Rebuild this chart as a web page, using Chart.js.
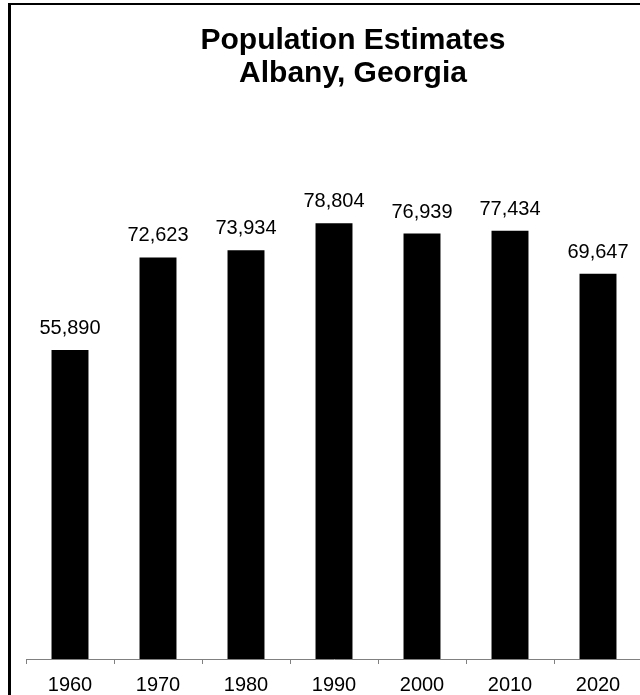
<!DOCTYPE html>
<html>
<head>
<meta charset="utf-8">
<script src="https://cdn.jsdelivr.net/npm/chart.js@4"></script>
<style>
  html, body { margin: 0; padding: 0; background: #fff; overflow: hidden; }
  #frame {
    position: absolute; left: 8px; top: 3px;
    width: 684px; height: 715px;
    border-left: 3px solid #000; border-top: 2px solid #000;
  }
  #wrap { position: relative; width: 684px; height: 705px; }
</style>
</head>
<body>
<div id="frame"><div id="wrap"><canvas id="chart"></canvas></div></div>
<script>
const years = ['1960', '1970', '1980', '1990', '2000', '2010', '2020'];
const population = [55890, 72623, 73934, 78804, 76939, 77434, 69647];
const titleLines = ['Population Estimates', 'Albany, Georgia'];

const FONT = '"Liberation Sans", Arial, sans-serif';

// title centred on the whole frame, not on the plot area
const frameTitle = {
  id: 'frameTitle',
  afterDraw(chart) {
    const ctx = chart.ctx;
    ctx.save();
    ctx.font = 'bold 30px ' + FONT;
    ctx.fillStyle = '#000';
    ctx.textAlign = 'center';
    ctx.textBaseline = 'alphabetic';
    titleLines.forEach((line, i) => {
      ctx.fillText(line, chart.width / 2, 44 + i * 33);
    });
    ctx.restore();
  }
};

// writes the value above each bar
const valueLabels = {
  id: 'valueLabels',
  afterDatasetsDraw(chart) {
    const ctx = chart.ctx;
    const meta = chart.getDatasetMeta(0);
    ctx.save();
    ctx.font = '20px ' + FONT;
    ctx.fillStyle = '#000';
    ctx.textAlign = 'center';
    ctx.textBaseline = 'alphabetic';
    meta.data.forEach((bar, i) => {
      ctx.fillText(population[i].toLocaleString('en-US'), bar.x, bar.y - 16);
    });
    ctx.restore();
  }
};

new Chart(document.getElementById('chart'), {
  type: 'bar',
  data: {
    labels: years,
    datasets: [{
      data: population,
      backgroundColor: '#000',
      borderWidth: 0,
      categoryPercentage: 1,
      barPercentage: 0.42
    }]
  },
  options: {
    responsive: true,
    maintainAspectRatio: false,
    animation: false,
    layout: { padding: { left: 15, right: 53, top: 101, bottom: 4 } },
    plugins: {
      legend: { display: false },
      tooltip: { enabled: false },
      title: { display: false }
    },
    scales: {
      x: {
        grid: {
          display: true,
          drawOnChartArea: false,
          drawTicks: true,
          tickLength: 5,
          color: '#808080',
          offset: true
        },
        border: { display: true, color: '#808080', width: 1 },
        ticks: { color: '#000', font: { family: FONT, size: 20 }, padding: 9 }
      },
      y: {
        display: false,
        min: 0,
        max: 100000
      }
    }
  },
  plugins: [valueLabels, frameTitle]
});
</script>
</body>
</html>
